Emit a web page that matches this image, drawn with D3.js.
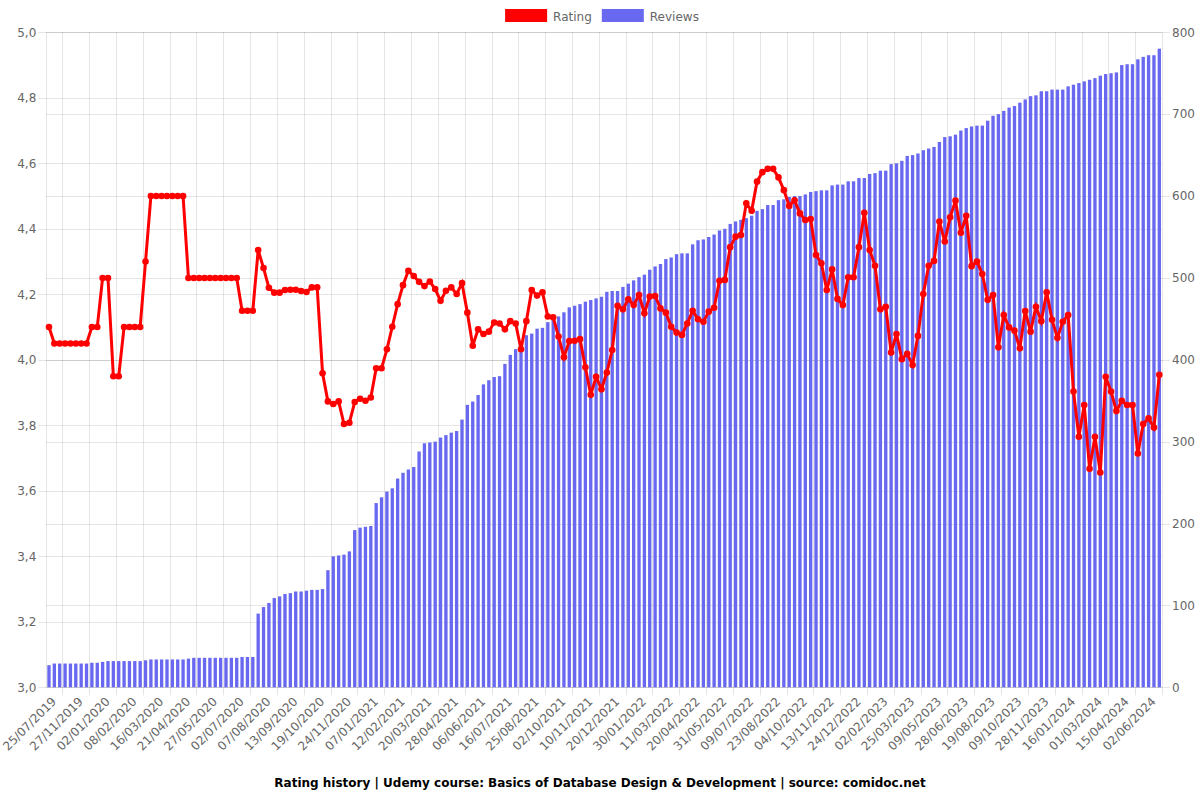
<!DOCTYPE html>
<html><head><meta charset="utf-8">
<script src="https://cdn.jsdelivr.net/npm/d3@7"></script>
<style>body{margin:0;background:#fff} svg{display:block;font-family:"DejaVu Sans",sans-serif}</style>
</head><body><svg id="c" width="1200" height="800"></svg>
<script>
// ---- data ----
const tickLabels = ["25/07/2019","27/11/2019","02/01/2020","08/02/2020","16/03/2020","21/04/2020","27/05/2020","02/07/2020","07/08/2020","13/09/2020","19/10/2020","24/11/2020","07/01/2021","12/02/2021","20/03/2021","28/04/2021","06/06/2021","16/07/2021","25/08/2021","02/10/2021","10/11/2021","20/12/2021","30/01/2022","11/03/2022","20/04/2022","31/05/2022","09/07/2022","23/08/2022","04/10/2022","13/11/2022","24/12/2022","02/02/2023","25/03/2023","09/05/2023","28/06/2023","19/08/2023","09/10/2023","28/11/2023","16/01/2024","01/03/2024","15/04/2024","02/06/2024"];
const tickEvery = 5;

const rating = [
4.10,4.05,4.05,4.05,4.05,4.05,4.05,4.05,4.10,4.10,
4.25,4.25,3.95,3.95,4.10,4.10,4.10,4.10,4.30,4.50,
4.50,4.50,4.50,4.50,4.50,4.50,4.25,4.25,4.25,4.25,
4.25,4.25,4.25,4.25,4.25,4.25,4.15,4.15,4.15,4.335,
4.28,4.22,4.205,4.205,4.213,4.214,4.214,4.21,4.207,4.221,
4.221,3.959,3.873,3.865,3.873,3.804,3.808,3.871,3.881,3.875,
3.885,3.974,3.974,4.032,4.101,4.170,4.228,4.272,4.256,4.238,
4.225,4.239,4.216,4.180,4.211,4.221,4.201,4.234,4.144,4.043,
4.093,4.079,4.086,4.114,4.111,4.093,4.118,4.111,4.032,4.118,
4.213,4.196,4.206,4.132,4.130,4.071,4.008,4.057,4.058,4.063,
3.977,3.893,3.948,3.910,3.961,4.030,4.165,4.154,4.185,4.167,
4.198,4.142,4.193,4.195,4.157,4.144,4.101,4.083,4.076,4.111,
4.150,4.124,4.116,4.147,4.159,4.241,4.244,4.344,4.376,4.381,
4.478,4.455,4.544,4.573,4.583,4.583,4.557,4.518,4.470,4.487,
4.447,4.427,4.430,4.320,4.295,4.213,4.276,4.186,4.167,4.252,
4.252,4.344,4.449,4.335,4.287,4.154,4.162,4.022,4.079,4.002,
4.018,3.984,4.073,4.201,4.287,4.302,4.422,4.361,4.435,4.486,
4.388,4.440,4.286,4.300,4.262,4.183,4.198,4.038,4.137,4.099,
4.089,4.035,4.149,4.086,4.162,4.118,4.206,4.122,4.067,4.116,
4.137,3.903,3.765,3.862,3.667,3.765,3.656,3.948,3.903,3.844,
3.875,3.862,3.862,3.714,3.804,3.821,3.793,3.954];

const reviews = [
27,29,29,29,29,29,29,29,30,30,
31,32,32,32,32,32,32,32,33,34,
34,34,34,34,34,34,35,36,36,36,
36,36,36,36,36,36,37,37,37,90,
98,103,109,111,114,115,117,117,118,119,
119,120,143,160,161,162,166,192,195,196,
197,225,232,239,243,255,262,266,269,288,
298,299,300,305,308,311,313,327,345,349,
357,370,375,379,380,395,406,413,420,430,
432,438,439,446,451,453,458,464,466,468,
471,473,475,477,483,484,484,489,493,497,
501,504,510,514,517,523,525,529,530,530,
541,546,547,550,553,558,560,566,569,571,
573,576,582,584,589,589,595,596,599,600,
600,602,605,606,607,607,613,614,614,618,
618,622,622,627,628,631,631,639,640,643,
649,650,652,656,658,660,666,672,673,675,
680,683,685,686,686,692,698,700,704,708,
710,714,718,722,723,728,728,730,730,730,
734,736,738,740,742,744,747,749,750,751,
760,761,761,767,770,772,772,780];

const seriesNames = ["Rating","Reviews"];
const ratingDomain = [3, 5];
const reviewsDomain = [0, 800];
const titleText = "Rating history | Udemy course: Basics of Database Design & Development | source: comidoc.net";

// ---- layout / style ----
const RED = "#ff0000", BLUE = "rgb(104,104,240)";
const GRID = "rgba(0,0,0,0.1)", TXT = "#666";
const m = {left: 46.3, right: 1162, top: 32.3, bottom: 687.3};
const svg = d3.select("#c");

const idx = d3.range(rating.length);
const x = d3.scaleBand().domain(idx).range([m.left, m.right]).padding(0);
const bw = x.bandwidth();
const cx = i => x(i) + bw / 2;
const yL = d3.scaleLinear().domain(ratingDomain).range([m.bottom, m.top]);
const yR = d3.scaleLinear().domain(reviewsDomain).range([m.bottom, m.top]);

const g = svg.append("g");

// horizontal grid (left axis)
const lTicks = d3.range(ratingDomain[0], ratingDomain[1] + 1e-9, 0.2);
g.selectAll("line.hl").data(lTicks).join("line")
  .attr("x1", m.left - 8).attr("x2", m.right)
  .attr("y1", d => Math.round(yL(d)) + 0.5).attr("y2", d => Math.round(yL(d)) + 0.5)
  .attr("stroke", GRID);
// horizontal grid (right axis)
const rTicks = yR.ticks(8);
g.selectAll("line.hr").data(rTicks).join("line")
  .attr("x1", m.left).attr("x2", m.right + 8)
  .attr("y1", d => Math.round(yR(d)) + 0.5).attr("y2", d => Math.round(yR(d)) + 0.5)
  .attr("stroke", GRID);

// vertical grid lines between displayed ticks
const shown = idx.filter(i => i % tickEvery === 0);
const vlines = shown.map(i => x(i) - (tickEvery - 1) / 2 * bw).filter(v => v >= m.left - 0.5);
vlines.push(x(shown[shown.length - 1]) + bw / 2 + tickEvery * bw / 2);
g.selectAll("line.v").data(vlines).join("line")
  .attr("x1", d => Math.round(d) + 0.5).attr("x2", d => Math.round(d) + 0.5)
  .attr("y1", m.top).attr("y2", m.bottom + 8)
  .attr("stroke", GRID);
// borders
g.append("line").attr("x1", Math.round(m.left)+0.5).attr("x2", Math.round(m.left)+0.5).attr("y1", m.top).attr("y2", m.bottom).attr("stroke", GRID);

// y labels
g.selectAll("text.yl").data(lTicks).join("text")
  .attr("x", m.left - 10).attr("y", d => yL(d)).attr("dy", "0.35em")
  .attr("text-anchor", "end").attr("font-size", 12).attr("fill", TXT)
  .text(d => d3.format(".1f")(d).replace(".", ","));
g.selectAll("text.yr").data(rTicks).join("text")
  .attr("x", m.right + 10).attr("y", d => yR(d)).attr("dy", "0.35em")
  .attr("text-anchor", "start").attr("font-size", 12).attr("fill", TXT)
  .text(d => d);

// x labels
g.selectAll("text.xl").data(shown).join("text")
  .attr("transform", i => `translate(${cx(i) + 5},${m.bottom + 12}) rotate(-45)`)
  .attr("text-anchor", "end").attr("dy", "0.35em")
  .attr("font-size", 12).attr("fill", TXT)
  .text((i, k) => tickLabels[k]);

// bars
const barW = bw * 0.62;
g.append("g").selectAll("rect").data(idx).join("rect")
  .attr("x", i => cx(i) - barW / 2).attr("width", barW)
  .attr("y", i => yR(reviews[i])).attr("height", i => yR(0) - yR(reviews[i]))
  .attr("fill", BLUE);

// line
const line = d3.line().x(i => cx(i)).y(i => yL(rating[i]));
g.append("path").datum(idx).attr("d", line)
  .attr("fill", "none").attr("stroke", RED).attr("stroke-width", 3);
g.append("g").selectAll("circle").data(idx).join("circle")
  .attr("cx", i => cx(i)).attr("cy", i => yL(rating[i])).attr("r", 3.3)
  .attr("fill", RED);

// legend
const lg = svg.append("g");
const colors = [RED, BLUE];
const items = seriesNames.map((n, k) => {
  const t = lg.append("text").attr("font-size", 12).attr("fill", TXT).attr("y", 20.5).text(n);
  return {t, w: t.node().getComputedTextLength(), c: colors[k]};
});
const total = d3.sum(items, d => 40 + 6 + d.w) + 10 * (items.length - 1);
let lx = 600 - total / 2;
items.forEach(d => {
  lg.append("rect").attr("x", lx).attr("y", 9).attr("width", 42).attr("height", 13).attr("fill", d.c);
  d.t.attr("x", lx + 48);
  lx += 48 + d.w + 10;
});

// title
svg.append("text").attr("x", 600).attr("y", 787).attr("text-anchor", "middle")
  .attr("font-size", 12).attr("font-weight", "bold").attr("fill", "#000").text(titleText);
</script></body></html>
